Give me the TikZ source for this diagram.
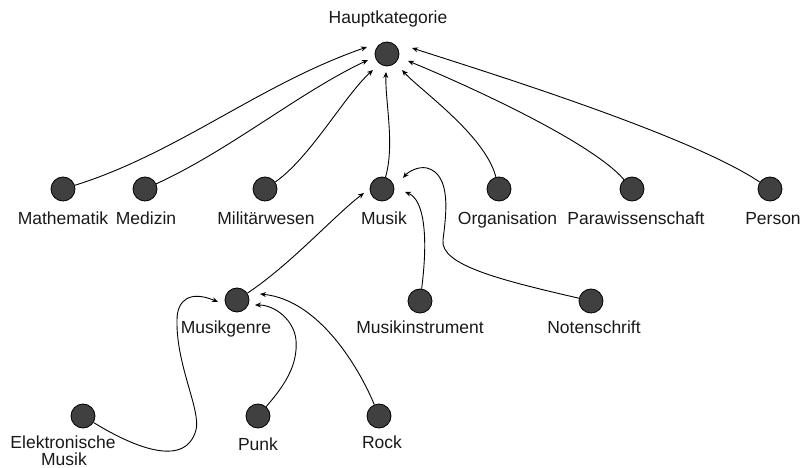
\documentclass[tikz,border=0pt]{standalone}
\usepackage{fontspec}
\setmainfont{Liberation Sans}
\usetikzlibrary{arrows.meta}
\begin{document}
\begin{tikzpicture}[x=1pt,y=-1pt,
  vtx/.style={circle,draw=black,line width=0.8pt,fill=black!75,minimum size=24pt,inner sep=0pt},
  lbl/.style={anchor=base,inner sep=0pt,font=\fontsize{17.5}{20}\selectfont,text=black!90},
  edge/.style={line width=0.9pt,-{Stealth[length=6pt,width=5pt]}}]
\useasboundingbox (0,0) rectangle (804,468);
% nodes
\node[vtx] (haupt) at (387,54) {};
\node[vtx] (math) at (63,189) {};
\node[vtx] (medi) at (145,189) {};
\node[vtx] (mili) at (265,189) {};
\node[vtx] (musik) at (382,189) {};
\node[vtx] (orga) at (499,189) {};
\node[vtx] (para) at (632,189) {};
\node[vtx] (pers) at (770,189) {};
\node[vtx] (genre) at (237,300) {};
\node[vtx] (instr) at (420,301) {};
\node[vtx] (noten) at (591,301) {};
\node[vtx] (elek) at (83,416) {};
\node[vtx] (punk) at (258,416) {};
\node[vtx] (rock) at (379,416) {};
% labels
\node[lbl] (lhaupt) at (388,24) {Hauptkategorie};
\node[lbl] (lmath) at (63,225) {Mathematik};
\node[lbl] (lmedi) at (146,225) {Medizin};
\node[lbl] (lmili) at (266,225) {Militärwesen};
\node[lbl] (lmusik) at (384,225) {Musik};
\node[lbl] (lorga) at (507.5,225) {Organisation};
\node[lbl] (lpara) at (636,225) {Parawissenschaft};
\node[lbl] (lpers) at (773,225) {Person};
\node[lbl] (lgenre) at (226,333) {Musikgenre};
\node[lbl] (linstr) at (420,333) {Musikinstrument};
\node[lbl] (lnoten) at (594,333) {Notenschrift};
\node[lbl] (lelek1) at (63,448) {Elektronische};
\node[lbl] (lelek2) at (64,465) {Musik};
\node[lbl] (lpunk) at (258,450) {Punk};
\node[lbl] (lrock) at (382,448) {Rock};
% arrow end points
\coordinate (hMa) at (367,47);
\coordinate (hMe) at (368,60);
\coordinate (hMi) at (373,70);
\coordinate (hMu) at (386,72);
\coordinate (hOr) at (402,70);
\coordinate (hPa) at (408,61);
\coordinate (hPe) at (412,48);
\coordinate (mGe) at (364,193);
\coordinate (mIn) at (405,192);
\coordinate (mNo) at (403,178);
\coordinate (gEl) at (218,302);
\coordinate (gPu) at (255,305);
\coordinate (gRo) at (260,294);
% edges to Hauptkategorie
\draw[edge] (math) .. controls (178,153) and (260,84) .. (hMa);
\draw[edge] (medi) .. controls (230,150) and (300,92) .. (hMe);
\draw[edge] (mili) .. controls (310,158) and (345,95) .. (hMi);
\draw[edge] (musik) .. controls (395,145) and (385,100) .. (hMu);
\draw[edge] (orga) .. controls (485,135) and (420,90) .. (hOr);
\draw[edge] (para) .. controls (590,140) and (455,80) .. (hPa);
\draw[edge] (pers) .. controls (690,135) and (480,70) .. (hPe);
% edges to Musik
\draw[edge] (genre) .. controls (290,265) and (335,215) .. (mGe);
\draw[edge] (instr) .. controls (428,240) and (425,200) .. (mIn);
\draw[edge] (noten) .. controls (500,280) and (440,265) .. (443,240)
  .. controls (446,215) and (452,175) .. (427,168)
  .. controls (418,166) and (408,172) .. (mNo);
% edges to Musikgenre
\draw[edge] (elek) .. controls (130,445) and (185,470) .. (196,430)
  .. controls (201,410) and (176,365) .. (177,320)
  .. controls (177,300) and (190,290) .. (gEl);
\draw[edge] (punk) .. controls (285,385) and (298,365) .. (296,340)
  .. controls (294,320) and (275,305) .. (gPu);
\draw[edge] (rock) .. controls (360,370) and (320,300) .. (gRo);
\end{tikzpicture}
\end{document}
